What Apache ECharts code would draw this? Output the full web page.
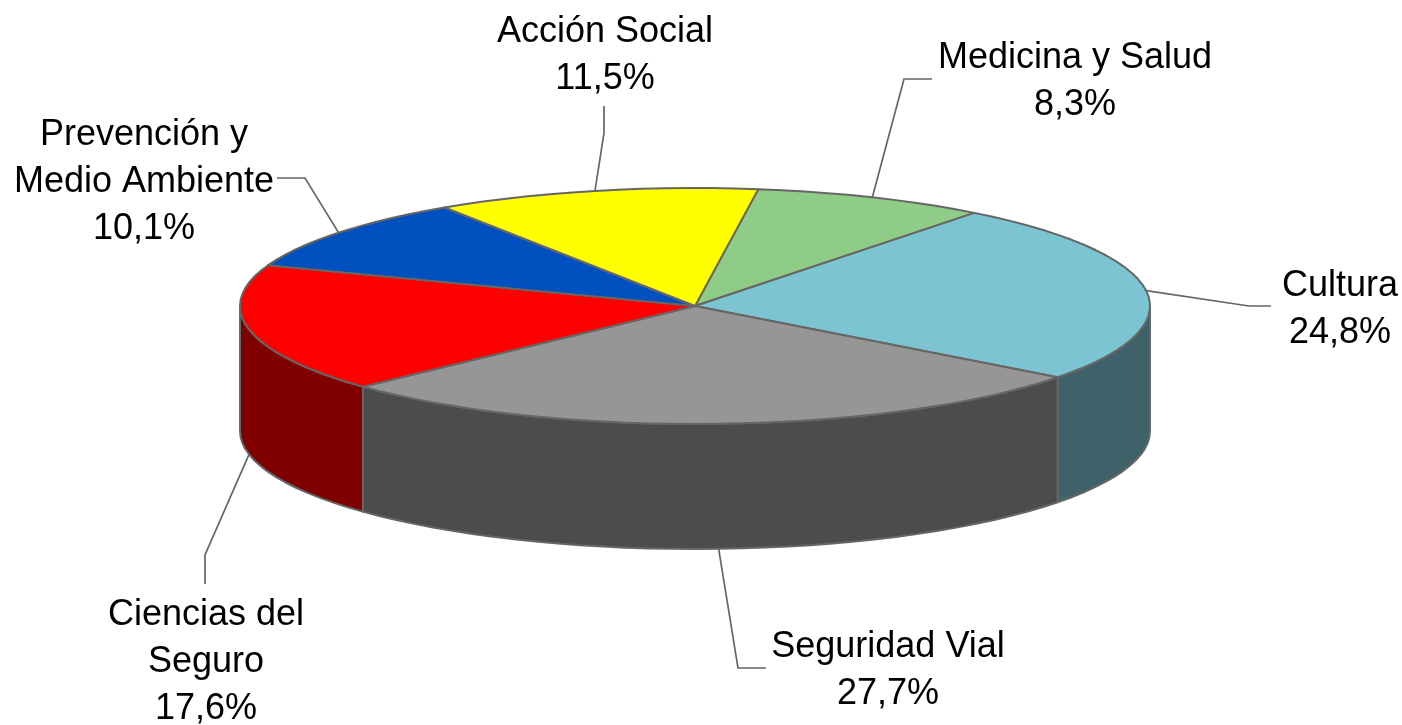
<!DOCTYPE html>
<html>
<head>
<meta charset="utf-8">
<style>
  html, body { margin: 0; padding: 0; background: #fff; }
  #chart { width: 1402px; height: 725px; }
</style>
<script src="https://cdn.jsdelivr.net/npm/echarts@6/dist/echarts.min.js"></script>
</head>
<body>
<div id="chart"></div>
<script>
const categories = ['Medicina y Salud', 'Cultura', 'Seguridad Vial', 'Ciencias del\nSeguro', 'Prevención y\nMedio Ambiente', 'Acción Social']
const shares = [8.3, 24.8, 27.7, 17.6, 10.1, 11.5]
const topColors = ['#8fcc87', '#7cc4d2', '#969696', '#ff0000', '#0050c0', '#ffff00']
const sideColors = ['#476644', '#3f626a', '#4c4c4c', '#800000', '#002860', '#808000']

// pie geometry, the top face is an ellipse
const cx = 695
const cy = 306
const rx = 455
const ry = 118
const depth = 125
const startAngle = 8
const edgeColor = '#666'

// label centre and the two bends of each leader line
const labelLayout = [
  { x: 1075, y: 82, line: [[904, 79], [932, 79]] },
  { x: 1340, y: 310, line: [[1249, 306], [1271, 306]] },
  { x: 888, y: 671, line: [[738, 668], [766, 668]] },
  { x: 206, y: 662, line: [[205, 555], [205, 584]] },
  { x: 144, y: 182, line: [[305, 178], [277, 178]] },
  { x: 605, y: 56, line: [[604, 133], [604, 106]] }
]

const total = shares.reduce((a, b) => a + b, 0)

function pointAt (deg, drop) {
  const r = deg * Math.PI / 180
  return [cx + rx * Math.sin(r), cy - ry * Math.cos(r) + (drop || 0)]
}

// the rim of the original is slightly faceted, so keep the steps fairly coarse
function arc (from, to, drop) {
  const pts = []
  const n = Math.max(2, Math.ceil(Math.abs(to - from) / 3))
  for (let i = 0; i <= n; i++) {
    pts.push(pointAt(from + (to - from) * i / n, drop))
  }
  return pts
}

function renderSlice (params, api) {
  const i = params.dataIndex
  const value = api.value(0)
  let before = 0
  for (let k = 0; k < i; k++) before += shares[k]
  const a0 = startAngle + before / total * 360
  const a1 = a0 + value / total * 360
  const mid = (a0 + a1) / 2
  const children = []

  // only the front half of the wall can be seen
  const s0 = Math.max(a0, 90)
  const s1 = Math.min(a1, 270)
  if (s1 > s0) {
    children.push({
      type: 'polygon',
      z2: 1,
      shape: { points: arc(s0, s1, 0).concat(arc(s1, s0, depth)) },
      style: { fill: sideColors[i], stroke: edgeColor, lineWidth: 2, lineJoin: 'round' }
    })
  }

  children.push({
    type: 'polygon',
    z2: 2,
    shape: { points: [[cx, cy]].concat(arc(a0, a1, 0)) },
    style: { fill: topColors[i], stroke: edgeColor, lineWidth: 2, lineJoin: 'round' }
  })

  const layout = labelLayout[i]
  const onFront = mid > 135 && mid < 270
  children.push({
    type: 'polyline',
    z2: 3,
    shape: { points: [pointAt(mid, onFront ? depth : 0)].concat(layout.line) },
    style: { fill: null, stroke: edgeColor, lineWidth: 1.7 }
  })

  children.push({
    type: 'text',
    z2: 4,
    style: {
      x: layout.x,
      y: layout.y,
      text: categories[i] + '\n' + value.toFixed(1).replace('.', ',') + '%',
      fill: '#000',
      font: '36px "Liberation Sans", Arial, sans-serif',
      lineHeight: 47,
      align: 'center',
      verticalAlign: 'middle'
    }
  })

  return { type: 'group', children: children }
}

const chart = echarts.init(document.getElementById('chart'))
chart.setOption({
  animation: false,
  backgroundColor: '#fff',
  series: [{
    type: 'custom',
    coordinateSystem: 'none',
    renderItem: renderSlice,
    data: shares.map(v => [v])
  }]
})
window.addEventListener('resize', () => chart.resize())
</script>
</body>
</html>
